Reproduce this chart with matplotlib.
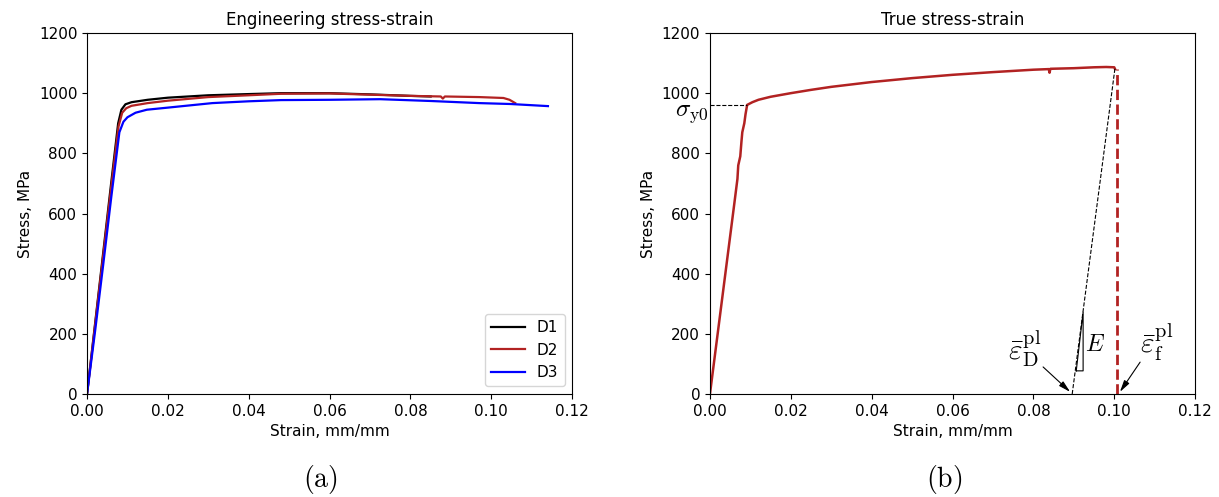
import matplotlib.pyplot as plt

plt.rcParams['mathtext.fontset'] = 'cm'

# engineering stress-strain (a)
d1_strain = [0, 0.002, 0.004, 0.006, 0.0077, 0.0085, 0.0095, 0.011, 0.015, 0.02, 0.03, 0.04, 0.048, 0.06, 0.07, 0.08, 0.085]
d1_stress = [0, 235, 470, 705, 900, 945, 963, 970, 978, 985, 993, 997, 1000, 1000, 996, 991, 989]

d2_strain = [0, 0.002, 0.004, 0.006, 0.0078, 0.0087, 0.0097, 0.011, 0.015, 0.02, 0.03, 0.04, 0.048, 0.06, 0.0725, 0.08, 0.0875, 0.088, 0.0885, 0.097, 0.103, 0.1045, 0.1059]
d2_stress = [0, 230, 460, 690, 890, 935, 950, 958, 967, 975, 987, 993, 998, 999, 994, 991, 989, 982, 989, 987, 984, 978, 967]

d3_strain = [0, 0.002, 0.004, 0.006, 0.008, 0.009, 0.01, 0.012, 0.0148, 0.02, 0.031, 0.04, 0.048, 0.06, 0.0725, 0.085, 0.097, 0.1047, 0.114]
d3_stress = [0, 210, 430, 655, 870, 905, 920, 935, 945, 952, 967, 973, 977, 978, 980, 974, 967, 964, 957]

# true stress-strain (b)
true_strain = [0, 0.002, 0.004, 0.006, 0.0068, 0.007, 0.0075, 0.0078, 0.008, 0.0085, 0.0088, 0.0092, 0.0105, 0.012, 0.015, 0.02, 0.025, 0.03, 0.04, 0.05, 0.06, 0.07, 0.08, 0.0838, 0.084, 0.0842, 0.09, 0.095, 0.098, 0.1, 0.1002]
true_stress = [0, 210, 420, 630, 715, 760, 790, 840, 870, 900, 930, 961, 970, 978, 988, 1000, 1011, 1021, 1037, 1050, 1061, 1070, 1078, 1080, 1068, 1081, 1083, 1086, 1087, 1086, 1080]

sigma_y0 = 961
yield_strain = 0.0092
eps_D = 0.0896
eps_f = 0.1007
tri_x = [0.0906, 0.0923, 0.0923]
tri_y = [77, 77, 272]

xticks = [0, 0.02, 0.04, 0.06, 0.08, 0.10, 0.12]
yticks = [0, 200, 400, 600, 800, 1000, 1200]

fig = plt.figure(figsize=(12.19, 4.97), dpi=100)
ax1 = fig.add_axes([0.0714, 0.2072, 0.398, 0.7264])
ax2 = fig.add_axes([0.5824, 0.2072, 0.398, 0.7264])

ax1.plot(d1_strain, d1_stress, color='black', lw=1.6, label='D1')
ax1.plot(d2_strain, d2_stress, color='#b22222', lw=1.6, label='D2')
ax1.plot(d3_strain, d3_stress, color='blue', lw=1.6, label='D3')
ax1.legend(loc='lower right', fontsize=11, handlelength=2.2)
ax1.set_title('Engineering stress-strain', fontsize=12)

ax2.plot(true_strain, true_stress, color='#b22222', lw=1.8)
ax2.plot([eps_f, eps_f], [0, true_stress[-1]], color='#b22222', lw=2, ls='--')
ax2.plot([0, yield_strain], [sigma_y0, sigma_y0], color='black', lw=0.8, ls='--')
ax2.plot([eps_D, true_strain[-1]], [0, 1085], color='black', lw=0.8, ls='--')
ax2.plot(tri_x + [tri_x[0]], tri_y + [tri_y[0]], color='black', lw=0.8)
ax2.set_title('True stress-strain', fontsize=12)

ax2.text(-0.0003, 935, r'$\sigma_{\mathrm{y0}}$', fontsize=18, ha='right', va='center')
ax2.text(0.0953, 166, r'$E$', fontsize=17, ha='center', va='center')
ax2.text(0.0779, 150, r'$\bar{\varepsilon}_{\mathrm{D}}^{\mathrm{pl}}$', fontsize=21, ha='center', va='center')
ax2.text(0.1106, 170, r'$\bar{\varepsilon}_{\mathrm{f}}^{\mathrm{pl}}$', fontsize=21, ha='center', va='center')
arrow = dict(arrowstyle='-|>,head_width=0.18,head_length=0.7', color='black', lw=0.8,
             shrinkA=0, shrinkB=0)
ax2.annotate('', xy=(0.0891, 7), xytext=(0.0824, 90), arrowprops=arrow)
ax2.annotate('', xy=(0.1014, 7), xytext=(0.1064, 106), arrowprops=arrow)

for ax in (ax1, ax2):
    ax.set_xlim(0, 0.12)
    ax.set_ylim(0, 1200)
    ax.set_xticks(xticks)
    ax.set_yticks(yticks)
    ax.tick_params(labelsize=11)
    ax.set_xlabel('Strain, mm/mm', fontsize=11)
    ax.set_ylabel('Stress, MPa', fontsize=11)

fig.text(0.2627, 0.035, r'$\mathrm{(a)}$', fontsize=20, ha='center', va='center')
fig.text(0.7745, 0.035, r'$\mathrm{(b)}$', fontsize=20, ha='center', va='center')

plt.savefig('out.png')
